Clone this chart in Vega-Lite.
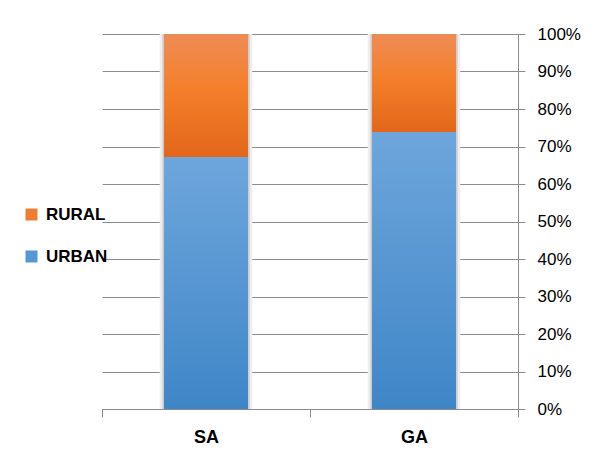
{
  "$schema": "https://vega.github.io/schema/vega-lite/v6.json",
  "width": 416,
  "height": 375,
  "autosize": {"type": "none"},
  "padding": {"left": 102, "top": 34, "right": 76, "bottom": 47},
  "background": "white",
  "config": {
    "font": "Liberation Sans",
    "view": {"stroke": null},
    "axisY": {
      "orient": "right",
      "title": null,
      "format": ".0%",
      "values": [0, 0.1, 0.2, 0.3, 0.4, 0.5, 0.6, 0.7, 0.8, 0.9, 1],
      "labelOverlap": false,
      "grid": true,
      "gridColor": "#8c8c8c",
      "gridOpacity": 1,
      "domainColor": "#8c8c8c",
      "tickColor": "#8c8c8c",
      "tickSize": 7,
      "labelPadding": 12,
      "labelFontSize": 17,
      "labelColor": "#000000"
    }
  },
  "data": {
    "values": [
      {"cat": "SA", "type": "URBAN", "v": 0.672},
      {"cat": "SA", "type": "RURAL", "v": 0.328},
      {"cat": "GA", "type": "URBAN", "v": 0.739},
      {"cat": "GA", "type": "RURAL", "v": 0.261}
    ]
  },
  "encoding": {
    "x": {
      "field": "cat",
      "type": "nominal",
      "sort": ["SA", "GA"],
      "scale": {"paddingInner": 0, "paddingOuter": 0},
      "axis": {
        "title": null,
        "labelAngle": 0,
        "labelFont": "Liberation Sans",
        "labelFontWeight": "bold",
        "labelFontSize": 18,
        "labelColor": "#000000",
        "labelPadding": 11,
        "domainColor": "#8c8c8c",
        "tickColor": "#8c8c8c",
        "tickSize": 8,
        "tickBand": "extent"
      }
    }
  },
  "layer": [
    {
      "mark": {"type": "bar", "width": {"band": 0.445}, "color": "#eeeeee"},
      "encoding": {
        "y": {
          "aggregate": "sum", "field": "v", "type": "quantitative",
          "scale": {"domain": [0, 1], "nice": false},
          "axis": {"orient": "right", "title": null, "format": ".0%", "values": [0, 0.1, 0.2, 0.3, 0.4, 0.5, 0.6, 0.7, 0.8, 0.9, 1], "labelOverlap": false}
        }
      }
    },
    {
      "mark": {"type": "bar", "width": {"band": 0.42}, "color": "#cfcfcf"},
      "encoding": {
        "y": {
          "aggregate": "sum", "field": "v", "type": "quantitative",
          "axis": {"orient": "right", "title": null, "format": ".0%", "values": [0, 0.1, 0.2, 0.3, 0.4, 0.5, 0.6, 0.7, 0.8, 0.9, 1], "labelOverlap": false}
        }
      }
    },
    {
      "mark": {"type": "bar", "width": {"band": 0.404}},
      "encoding": {
        "y": {
          "field": "v", "type": "quantitative", "stack": "zero",
          "axis": {"orient": "right", "title": null, "format": ".0%", "values": [0, 0.1, 0.2, 0.3, 0.4, 0.5, 0.6, 0.7, 0.8, 0.9, 1], "labelOverlap": false}
        },
        "color": {
          "field": "type",
          "type": "nominal",
          "scale": {
            "domain": ["RURAL", "URBAN"],
            "range": ["#F07E32", "#5596D4"]
          },
          "legend": {
            "title": null,
            "orient": "none",
            "legendX": -79,
            "legendY": 172,
            "padding": 0,
            "symbolType": "square",
            "symbolSize": 144,
            "symbolStrokeWidth": 0,
            "labelFontSize": 17,
            "labelFontWeight": "bold",
            "labelColor": "#000000",
            "labelOffset": 6,
            "rowPadding": 24
          }
        },
        "order": {"field": "type", "sort": "descending"}
      }
    },
    {
      "mark": {"type": "bar", "width": {"band": 0.404}},
      "encoding": {
        "y": {
          "field": "v", "type": "quantitative", "stack": "zero",
          "axis": {"orient": "right", "title": null, "format": ".0%", "values": [0, 0.1, 0.2, 0.3, 0.4, 0.5, 0.6, 0.7, 0.8, 0.9, 1], "labelOverlap": false}
        },
        "detail": {"field": "type", "type": "nominal"},
        "order": {"field": "type", "sort": "descending"},
        "color": {
          "condition": {
            "test": "datum.type === 'RURAL'",
            "value": {"gradient": "linear", "x1": 0, "y1": 0, "x2": 0, "y2": 1, "stops": [{"offset": 0, "color": "#EE8C56"}, {"offset": 0.45, "color": "#F47F2B"}, {"offset": 1, "color": "#E3661A"}]}
          },
          "value": {"gradient": "linear", "x1": 0, "y1": 0, "x2": 0, "y2": 1, "stops": [{"offset": 0, "color": "#6EA6DC"}, {"offset": 1, "color": "#3F86C7"}]}
        }
      }
    }
  ]
}
